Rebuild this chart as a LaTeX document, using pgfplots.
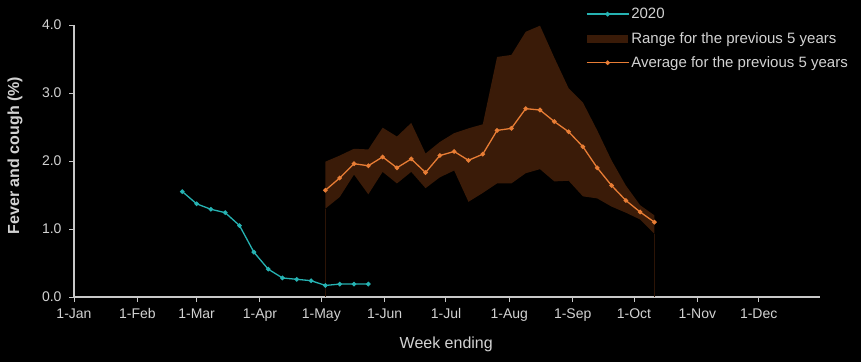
\documentclass[border=0pt]{standalone}
\usepackage{fontspec}
\setmainfont{Liberation Sans}
\usepackage{xcolor}
\usepackage{pgfplots}
\usepackage{pgfplotstable}
\pgfplotsset{compat=1.18}
\usepgfplotslibrary{fillbetween}
\definecolor{cyanline}{RGB}{38,178,178}
\definecolor{orangeline}{RGB}{232,125,53}
\definecolor{rangefill}{RGB}{58,27,8}
\definecolor{edgeline}{RGB}{44,20,6}
\definecolor{txt}{RGB}{210,210,210}
\definecolor{axisc}{RGB}{200,200,200}

\pgfplotstableread{
day val
53 1.55
60 1.37
67 1.29
74 1.24
81 1.05
88 0.66
95 0.41
102 0.28
109 0.26
116 0.24
123 0.17
130 0.19
137 0.19
144 0.19
}\cur

\pgfplotstableread{
day avg upper lower
123 1.57 1.99 1.30
130 1.75 2.08 1.47
137 1.96 2.18 1.80
144 1.93 2.17 1.51
151 2.06 2.49 1.84
158 1.90 2.36 1.67
165 2.03 2.56 1.84
172 1.83 2.11 1.60
179 2.08 2.28 1.76
186 2.14 2.41 1.86
193 2.01 2.48 1.40
200 2.10 2.54 1.53
207 2.45 3.53 1.67
214 2.48 3.56 1.67
221 2.77 3.90 1.82
228 2.75 3.99 1.88
235 2.58 3.52 1.70
242 2.43 3.07 1.71
249 2.21 2.86 1.48
256 1.90 2.45 1.45
263 1.64 2.01 1.33
270 1.42 1.64 1.24
277 1.25 1.35 1.14
284 1.10 1.20 0.93
}\prev

\pgfplotsset{
  mylineleg/.style={legend image code/.code={\draw[mark repeat=2,mark phase=2,##1] plot coordinates {(0pt,0pt) (21pt,0pt) (42pt,0pt)};}},
  myarealeg/.style={legend image code/.code={\fill[##1] (0pt,-4.5pt) rectangle (42pt,4.5pt);}},
}

\pagecolor{black}
\begin{document}
\begin{tikzpicture}
\path (0pt,0pt) rectangle (861pt,362pt);
\begin{axis}[
  at={(74pt,65pt)}, anchor=south west, scale only axis,
  width=746pt, height=272pt,
  xmin=0, xmax=365, ymin=0, ymax=4,
  clip=false,
  axis x line*=bottom, axis y line*=left,
  axis line style={draw=axisc, line width=1.2pt},
  xtick={0,31,60,91,121,152,182,213,244,274,305,335},
  xticklabels={1-Jan,1-Feb,1-Mar,1-Apr,1-May,1-Jun,1-Jul,1-Aug,1-Sep,1-Oct,1-Nov,1-Dec},
  ytick={0,1,2,3,4},
  yticklabels={0.0,1.0,2.0,3.0,4.0},
  /pgf/number format/assume math mode=true,
  tick align=outside, major tick length=5pt,
  tick style={draw=axisc, line width=1pt},
  ticklabel style={font=\fontsize{14}{16}\selectfont, text=txt},
  xticklabel style={yshift=-3pt},
  yticklabel style={xshift=-4pt},
  xlabel={Week ending},
  xlabel style={font=\fontsize{16}{18}\selectfont, text=txt, at={(axis description cs:0.499,-0.173)}, anchor=center},
  ylabel={Fever and cough (\%)},
  ylabel style={font=\bfseries\fontsize{16}{18}\selectfont, text=txt, at={(axis description cs:-0.079,0.52)}, anchor=center},
  legend cell align=left,
  legend style={at={(axis description cs:0.686,1.07)}, anchor=north west, draw=none, fill=none,
    font=\fontsize{15}{17}\selectfont, text=txt, row sep=8pt, inner sep=0pt},
]
\addlegendimage{mylineleg, cyanline, line width=1.3pt, mark=*, mark size=1.6pt, mark options={fill=cyanline, draw=cyanline}}
\addlegendentry{2020}
\addlegendimage{myarealeg, fill=rangefill}
\addlegendentry{Range for the previous 5 years}
\addlegendimage{mylineleg, orangeline, line width=1.3pt, mark=*, mark size=1.6pt, mark options={fill=orangeline, draw=orangeline}}
\addlegendentry{Average for the previous 5 years}

\addplot[name path=up, draw=none, forget plot] table[x=day, y=upper] {\prev};
\addplot[name path=lo, draw=none, forget plot] table[x=day, y=lower] {\prev};
\addplot[fill=rangefill, draw=none, forget plot] fill between[of=up and lo];
\addplot[draw=edgeline, line width=0.8pt, forget plot] coordinates {(123,0) (123,1.30)};
\addplot[draw=edgeline, line width=0.8pt, forget plot] coordinates {(284,0) (284,0.93)};
\addplot[orangeline, line width=1.3pt, mark=*, mark size=1.6pt, mark options={fill=orangeline, draw=orangeline}, forget plot] table[x=day, y=avg] {\prev};
\addplot[cyanline, line width=1.3pt, mark=*, mark size=1.6pt, mark options={fill=cyanline, draw=cyanline}, forget plot] table[x=day, y=val] {\cur};
\end{axis}
\end{tikzpicture}
\end{document}
